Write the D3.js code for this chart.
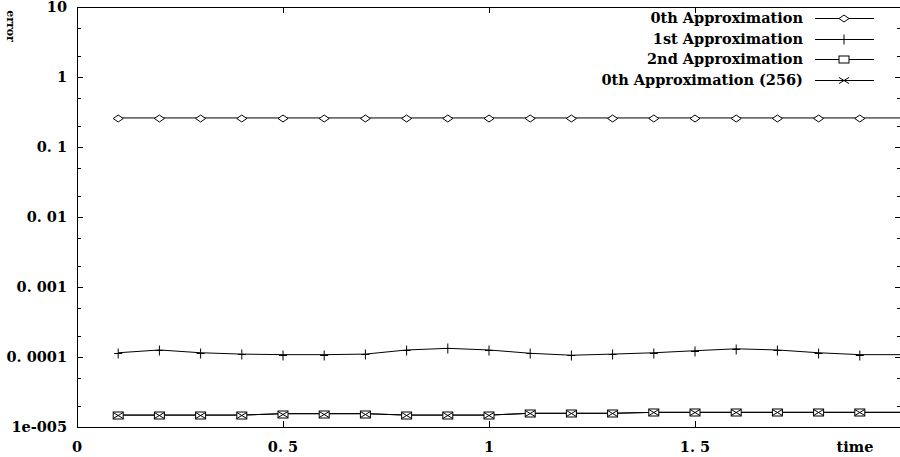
<!DOCTYPE html>
<meta charset="utf-8">
<script src="https://d3js.org/d3.v7.min.js"></script>
<style>
  body { margin: 0; background: #fff; }
  text { font-family: "DejaVu Serif", serif; font-weight: bold; font-size: 14.5px; fill: #000; }
</style>
<div id="chart"></div>
<script>
// data
var times = [0.1, 0.2, 0.3, 0.4, 0.5, 0.6, 0.7, 0.8, 0.9, 1.0,
             1.1, 1.2, 1.3, 1.4, 1.5, 1.6, 1.7, 1.8, 1.9, 2.0];
var approx0 = [0.26, 0.26, 0.26, 0.26, 0.26, 0.26, 0.26, 0.26, 0.26, 0.26,
               0.26, 0.26, 0.26, 0.26, 0.26, 0.26, 0.26, 0.26, 0.26, 0.26];
var approx1 = [1.15e-4, 1.26e-4, 1.15e-4, 1.10e-4, 1.08e-4, 1.08e-4, 1.10e-4, 1.26e-4, 1.33e-4, 1.26e-4,
               1.13e-4, 1.06e-4, 1.10e-4, 1.15e-4, 1.23e-4, 1.31e-4, 1.26e-4, 1.15e-4, 1.08e-4, 1.08e-4];
var approx2 = [1.48e-5, 1.48e-5, 1.48e-5, 1.48e-5, 1.55e-5, 1.55e-5, 1.55e-5, 1.48e-5, 1.48e-5, 1.48e-5,
               1.57e-5, 1.57e-5, 1.57e-5, 1.62e-5, 1.62e-5, 1.62e-5, 1.62e-5, 1.62e-5, 1.62e-5, 1.62e-5];
var approx0_256 = [1.48e-5, 1.48e-5, 1.48e-5, 1.48e-5, 1.55e-5, 1.55e-5, 1.55e-5, 1.48e-5, 1.48e-5, 1.48e-5,
                   1.57e-5, 1.57e-5, 1.57e-5, 1.62e-5, 1.62e-5, 1.62e-5, 1.62e-5, 1.62e-5, 1.62e-5, 1.62e-5];

var seriesNames = ["0th Approximation", "1st Approximation", "2nd Approximation", "0th Approximation (256)"];
var seriesValues = [approx0, approx1, approx2, approx0_256];
var seriesMarkers = ["diamond", "plus", "box", "cross"];

var yTicks = [10, 1, 0.1, 0.01, 0.001, 0.0001, 0.00001];
var yTickLabels = ["10", "1", "0. 1", "0. 01", "0. 001", "0. 0001", "1e-005"];
var xTicks = [0, 0.5, 1, 1.5];
var xTickLabels = ["0", "0. 5", "1", "1. 5"];

var W = 900, H = 457;
var pLeft = 77, pRight = 901, pTop = 7, pBottom = 427;

var svg = d3.select("#chart").append("svg")
  .attr("width", W).attr("height", H);

var x = d3.scaleLinear().domain([0, 2]).range([pLeft, pRight]);
var y = d3.scaleLog().domain([1e-5, 10]).range([pBottom, pTop]);

// frame
var frame = svg.append("g").attr("shape-rendering", "crispEdges")
  .attr("stroke", "#000").attr("stroke-width", 1);
frame.append("line").attr("x1", pLeft + 0.5).attr("x2", pLeft + 0.5).attr("y1", pTop).attr("y2", pBottom + 0.5);
frame.append("line").attr("x1", pLeft).attr("x2", W).attr("y1", pBottom + 0.5).attr("y2", pBottom + 0.5);
frame.append("line").attr("x1", pLeft).attr("x2", W).attr("y1", pTop + 0.5).attr("y2", pTop + 0.5);

// y ticks (major + minor at 2 and 5), mirrored on the right
var minor = [];
for (var e = -5; e < 1; e++) {
  minor.push(2 * Math.pow(10, e), 5 * Math.pow(10, e));
}
yTicks.forEach(function(v) {
  var yy = Math.round(y(v)) + 0.5;
  frame.append("line").attr("x1", pLeft).attr("x2", pLeft + 6).attr("y1", yy).attr("y2", yy);
  frame.append("line").attr("x1", pRight - 6).attr("x2", pRight).attr("y1", yy).attr("y2", yy);
});
minor.forEach(function(v) {
  var yy = Math.round(y(v)) + 0.5;
  frame.append("line").attr("x1", pLeft).attr("x2", pLeft + 4).attr("y1", yy).attr("y2", yy);
  frame.append("line").attr("x1", pRight - 4).attr("x2", pRight).attr("y1", yy).attr("y2", yy);
});
xTicks.slice(1).forEach(function(v) {
  var xx = Math.round(x(v)) + 0.5;
  frame.append("line").attr("x1", xx).attr("x2", xx).attr("y1", pBottom).attr("y2", pBottom - 6);
  frame.append("line").attr("x1", xx).attr("x2", xx).attr("y1", pTop).attr("y2", pTop + 6);
});

// tick labels
svg.append("g").selectAll("text").data(yTicks).enter().append("text")
  .attr("x", pLeft - 10)
  .attr("y", function(d) { return y(d) + 5; })
  .attr("text-anchor", "end")
  .text(function(d, i) { return yTickLabels[i]; });
svg.append("g").selectAll("text").data(xTicks).enter().append("text")
  .attr("x", function(d) { return x(d); })
  .attr("y", pBottom + 25)
  .attr("text-anchor", "middle")
  .text(function(d, i) { return xTickLabels[i]; });

svg.append("text").attr("x", 855).attr("y", pBottom + 25)
  .attr("text-anchor", "middle").text("time");
svg.append("text")
  .attr("transform", "translate(7,26) rotate(90)")
  .attr("text-anchor", "middle").style("font-size", "11px").text("error");

// markers
function drawMarker(g, type, cx, cy) {
  if (type === "diamond") {
    g.append("path").attr("d", "M" + (cx - 5) + "," + cy + "L" + cx + "," + (cy - 3.5) +
      "L" + (cx + 5) + "," + cy + "L" + cx + "," + (cy + 3.5) + "Z")
      .attr("fill", "#fff").attr("stroke", "#000");
  } else if (type === "plus") {
    g.append("path").attr("d", "M" + (cx - 4) + "," + cy + "H" + (cx + 4) +
      "M" + cx + "," + (cy - 5) + "V" + (cy + 5))
      .attr("fill", "none").attr("stroke", "#000");
  } else if (type === "box") {
    g.append("rect").attr("x", cx - 5).attr("y", cy - 3.5).attr("width", 10).attr("height", 7)
      .attr("fill", "#fff").attr("stroke", "#000");
  } else if (type === "cross") {
    g.append("path").attr("d", "M" + (cx - 5) + "," + (cy - 3) + "L" + (cx + 5) + "," + (cy + 3) +
      "M" + (cx - 5) + "," + (cy + 3) + "L" + (cx + 5) + "," + (cy - 3))
      .attr("fill", "none").attr("stroke", "#000");
  }
}

var plot = svg.append("g").attr("stroke-width", 1);
var line = d3.line()
  .x(function(d, i) { return x(times[i]); })
  .y(function(d) { return y(d); });

seriesValues.forEach(function(vals, s) {
  plot.append("path").datum(vals)
    .attr("fill", "none").attr("stroke", "#000").attr("d", line);
});
seriesValues.forEach(function(vals, s) {
  var g = plot.append("g");
  vals.forEach(function(v, i) {
    if (times[i] < 1.95) drawMarker(g, seriesMarkers[s], x(times[i]), Math.round(y(v)) + 0.5);
  });
});

// legend
var legend = svg.append("g");
seriesNames.forEach(function(name, i) {
  var ly = 18 + i * 20.5;
  legend.append("text").attr("x", 803).attr("y", ly + 5)
    .attr("text-anchor", "end").text(name);
  legend.append("line").attr("x1", 815).attr("x2", 874)
    .attr("y1", Math.round(ly) + 0.5).attr("y2", Math.round(ly) + 0.5)
    .attr("stroke", "#000").attr("shape-rendering", "crispEdges");
  drawMarker(legend, seriesMarkers[i], 844, Math.round(ly) + 0.5);
});
</script>
